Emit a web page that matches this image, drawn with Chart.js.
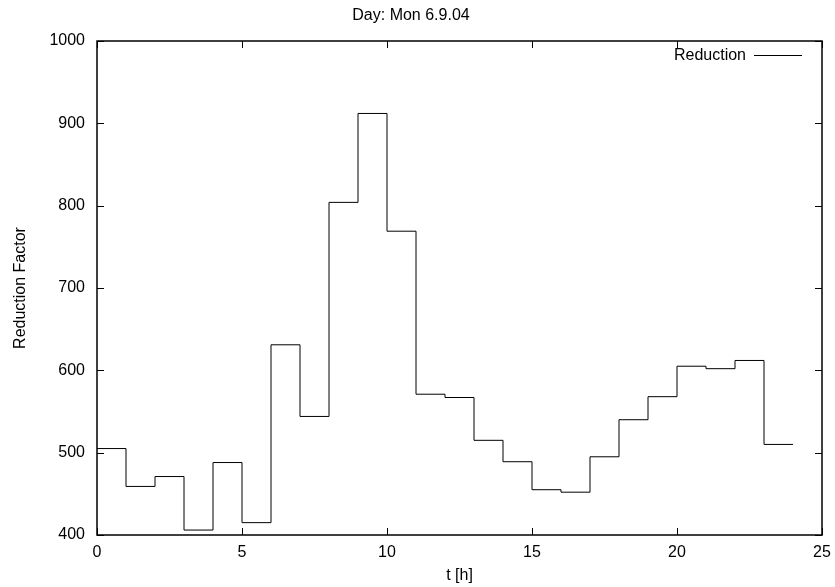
<!DOCTYPE html>
<html>
<head>
<meta charset="utf-8">
<title>Day: Mon 6.9.04</title>
<script src="https://cdn.jsdelivr.net/npm/chart.js@4.4.1/dist/chart.umd.min.js"></script>
<style>
    html, body { margin: 0; padding: 0; background: #fff; }
    #reductionChart { display: block; }
</style>
</head>
<body>
<canvas id="reductionChart" width="835" height="587"></canvas>
<script>
// hourly reduction factor (last value repeated at t=24 to close the step)
const hours = [0, 1, 2, 3, 4, 5, 6, 7, 8, 9, 10, 11, 12, 13, 14, 15, 16, 17, 18, 19, 20, 21, 22, 23, 24];
const reduction = [505, 459, 471, 406, 488, 415, 631, 544, 804, 912, 769, 571, 567, 515, 489, 455, 452, 495, 540, 568, 605, 602, 612, 510, 510];
const xTicks = [0, 5, 10, 15, 20, 25];
const yTicks = [400, 500, 600, 700, 800, 900, 1000];

const seriesName = 'Reduction';
const FONT = { family: "'Liberation Sans', Arial, sans-serif", size: 16 };
const TICK = 7;

// gnuplot style: inward ticks on all four sides, full border, key in the top right
const frameAndKey = {
    id: 'frameAndKey',
    afterDraw(chart) {
        const { ctx, chartArea: a, scales: { x, y } } = chart;
        ctx.save();
        ctx.strokeStyle = '#000';
        ctx.lineWidth = 1;
        ctx.beginPath();
        x.ticks.forEach(t => {
            const px = Math.round(x.getPixelForValue(t.value)) + 0.5;
            ctx.moveTo(px, a.bottom);
            ctx.lineTo(px, a.bottom - TICK);
            ctx.moveTo(px, a.top);
            ctx.lineTo(px, a.top + TICK);
        });
        y.ticks.forEach(t => {
            const py = Math.round(y.getPixelForValue(t.value)) + 0.5;
            ctx.moveTo(a.left, py);
            ctx.lineTo(a.left + TICK, py);
            ctx.moveTo(a.right, py);
            ctx.lineTo(a.right - TICK, py);
        });
        ctx.stroke();
        ctx.lineWidth = 1.5;
        ctx.strokeRect(a.left, a.top, a.right - a.left, a.bottom - a.top);

        // key
        const ky = a.top + 14.5;
        ctx.fillStyle = '#000';
        ctx.font = `${FONT.size}px ${FONT.family}`;
        ctx.textAlign = 'right';
        ctx.textBaseline = 'middle';
        ctx.fillText(seriesName, a.right - 76, ky);
        ctx.lineWidth = 1;
        ctx.beginPath();
        ctx.moveTo(a.right - 68, ky);
        ctx.lineTo(a.right - 20, ky);
        ctx.stroke();
        ctx.restore();
    }
};

new Chart(document.getElementById('reductionChart'), {
    type: 'line',
    data: {
        datasets: [{
            label: seriesName,
            data: hours.map((h, i) => ({ x: h, y: reduction[i] })),
            stepped: true,
            borderColor: '#000',
            borderWidth: 1,
            pointRadius: 0,
            fill: false
        }]
    },
    options: {
        responsive: false,
        animation: false,
        layout: { padding: { left: 0, right: 13, top: 0, bottom: 0 } },
        plugins: {
            legend: { display: false },
            tooltip: { enabled: false },
            title: {
                display: true,
                text: 'Day: Mon 6.9.04',
                color: '#000',
                font: { ...FONT, weight: 'normal' },
                padding: { top: 6.4, bottom: 15.4 }
            }
        },
        scales: {
            x: {
                type: 'linear',
                min: 0,
                max: 25,
                afterBuildTicks: scale => { scale.ticks = xTicks.map(v => ({ value: v })); },
                afterFit: scale => {
                    scale.height = 52;
                    scale.paddingLeft = 0;
                    scale.paddingRight = 0;
                },
                grid: { display: false, drawTicks: false },
                border: { display: false },
                ticks: { color: '#000', font: FONT, padding: 8, maxRotation: 0, callback: v => String(v) },
                title: { display: true, text: 't [h]', color: '#000', font: FONT, padding: { top: 0, bottom: 2 } }
            },
            y: {
                min: 400,
                max: 1000,
                afterBuildTicks: scale => { scale.ticks = yTicks.map(v => ({ value: v })); },
                afterFit: scale => {
                    scale.width = 97;
                    scale.paddingTop = 0;
                    scale.paddingBottom = 0;
                },
                grid: { display: false, drawTicks: false },
                border: { display: false },
                ticks: { color: '#000', font: FONT, padding: 12, callback: v => String(v) },
                title: { display: true, text: 'Reduction Factor', color: '#000', font: FONT, padding: { top: 11, bottom: 0 } }
            }
        }
    },
    plugins: [frameAndKey]
});
</script>
</body>
</html>
